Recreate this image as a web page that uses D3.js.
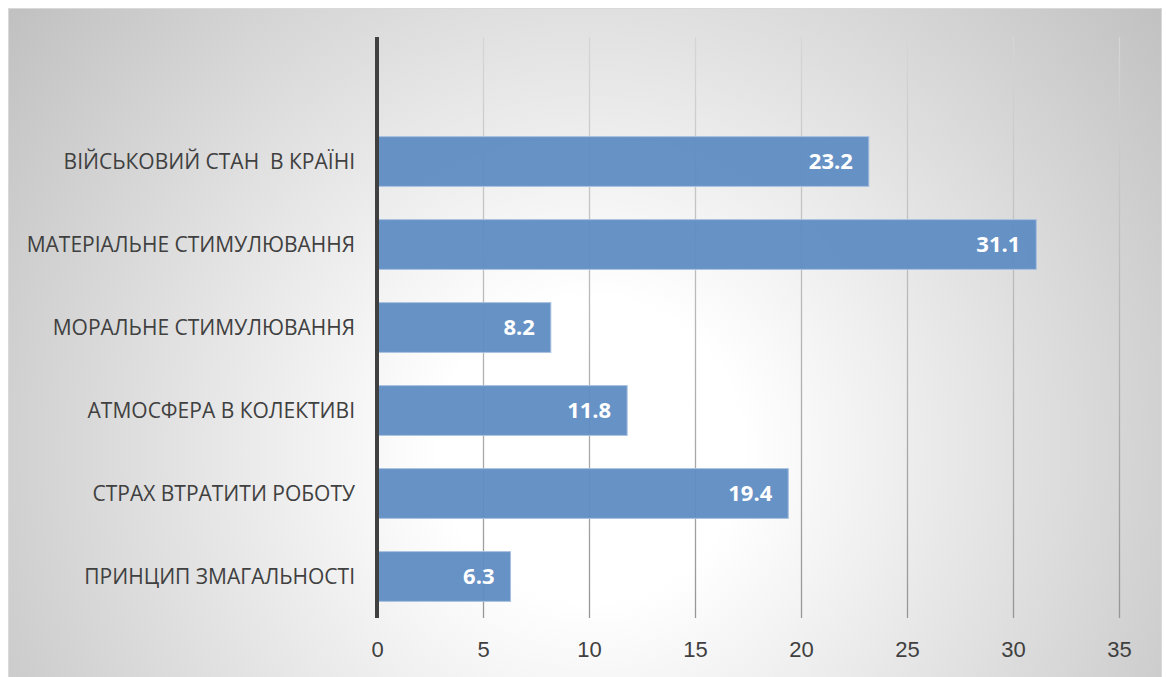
<!DOCTYPE html>
<html>
<head>
<meta charset="utf-8">
<script src="https://cdn.jsdelivr.net/npm/d3@7"></script>
<style>
  html, body { margin: 0; padding: 0; background: #ffffff; }
  svg { display: block; }
</style>
</head>
<body>
<script>
const categories = [
  "ВІЙСЬКОВИЙ СТАН  В КРАЇНІ",
  "МАТЕРІАЛЬНЕ СТИМУЛЮВАННЯ",
  "МОРАЛЬНЕ СТИМУЛЮВАННЯ",
  "АТМОСФЕРА В КОЛЕКТИВІ",
  "СТРАХ ВТРАТИТИ РОБОТУ",
  "ПРИНЦИП ЗМАГАЛЬНОСТІ"
];
const values = [23.2, 31.1, 8.2, 11.8, 19.4, 6.3];
const xTicks = [0, 5, 10, 15, 20, 25, 30, 35];

const W = 1166, H = 677;
const plotTop = 37, plotBottom = 618, plotLeft = 377, plotRight = 1119;

const svg = d3.select("body").append("svg")
  .attr("width", W).attr("height", H)
  .style("font-family", "'Open Sans', 'Noto Sans', sans-serif");

const defs = svg.append("defs");
const bg = defs.append("radialGradient")
  .attr("id", "bgGrad")
  .attr("gradientUnits", "userSpaceOnUse")
  .attr("cx", 590).attr("cy", 450).attr("r", 760);
bg.append("stop").attr("offset", 0).attr("stop-color", "#ffffff");
bg.append("stop").attr("offset", 0.2).attr("stop-color", "#ffffff");
bg.append("stop").attr("offset", 1).attr("stop-color", "#bdbdbd");

const gg = defs.append("linearGradient")
  .attr("id", "gridGrad")
  .attr("gradientUnits", "userSpaceOnUse")
  .attr("x1", 0).attr("y1", plotTop).attr("x2", 0).attr("y2", plotBottom);
gg.append("stop").attr("offset", 0).attr("stop-color", "#d6d6d6");
gg.append("stop").attr("offset", 1).attr("stop-color", "#969696");

// chart area background
svg.append("rect")
  .attr("x", 8.5).attr("y", 8.5)
  .attr("width", 1153).attr("height", 675)
  .attr("fill", "url(#bgGrad)")
  .attr("stroke", "#d9d9d9").attr("stroke-width", 1);

const x = d3.scaleLinear().domain([0, 35]).range([plotLeft, plotRight]);
const y = d3.scaleBand()
  .domain(categories)
  .range([plotTop + (plotBottom - plotTop) / 7, plotBottom])
  .paddingInner(0.4).paddingOuter(0.2);

// gridlines + tick labels
const xAxis = d3.axisBottom(x)
  .tickValues(xTicks)
  .tickFormat(d3.format("d"))
  .tickSizeInner(-(plotBottom - plotTop))
  .tickSizeOuter(0)
  .tickPadding(20);

const gx = svg.append("g")
  .attr("transform", `translate(0,${plotBottom})`)
  .call(xAxis);
gx.select(".domain").remove();
gx.selectAll(".tick line")
  .attr("stroke", "url(#gridGrad)")
  .attr("stroke-width", 1.3)
  .attr("transform", `translate(0,${-plotBottom})`)
  .attr("y1", plotTop).attr("y2", plotBottom)
  .filter(d => d === 0).remove();
gx.selectAll(".tick text")
  .attr("fill", "#404040")
  .style("font-size", "22px")
  .attr("dy", "0.35em")
  .attr("y", 31);

// bars
svg.append("g").selectAll("rect")
  .data(values)
  .join("rect")
  .attr("x", x(0))
  .attr("y", (d, i) => y(categories[i]))
  .attr("width", d => x(d) - x(0))
  .attr("height", y.bandwidth())
  .attr("fill", "#5f8cc3")
  .attr("fill-opacity", 0.95)
  .attr("stroke", "#a9c1e0")
  .attr("stroke-width", 1);

// value labels
svg.append("g").selectAll("text")
  .data(values)
  .join("text")
  .attr("x", d => x(d) - 16)
  .attr("y", (d, i) => y(categories[i]) + y.bandwidth() / 2)
  .attr("dy", "0.36em")
  .attr("text-anchor", "end")
  .attr("fill", "#ffffff")
  .style("font-weight", "700")
  .style("font-size", "22px")
  .text(d => d3.format(".1f")(d));

// category labels
const catG = svg.append("g");
catG.selectAll("text")
  .data(categories)
  .join("text")
  .attr("x", 355)
  .attr("y", d => y(d) + y.bandwidth() / 2)
  .attr("dy", "0.36em")
  .attr("text-anchor", "end")
  .attr("fill", "#404040")
  .style("font-size", "21px")
  .style("white-space", "pre")
  .attr("xml:space", "preserve")
  .text(d => d);

// vertical axis line
svg.append("line")
  .attr("x1", x(0)).attr("x2", x(0))
  .attr("y1", plotTop).attr("y2", plotBottom)
  .attr("stroke", "#404040")
  .attr("stroke-width", 4);
</script>
</body>
</html>
